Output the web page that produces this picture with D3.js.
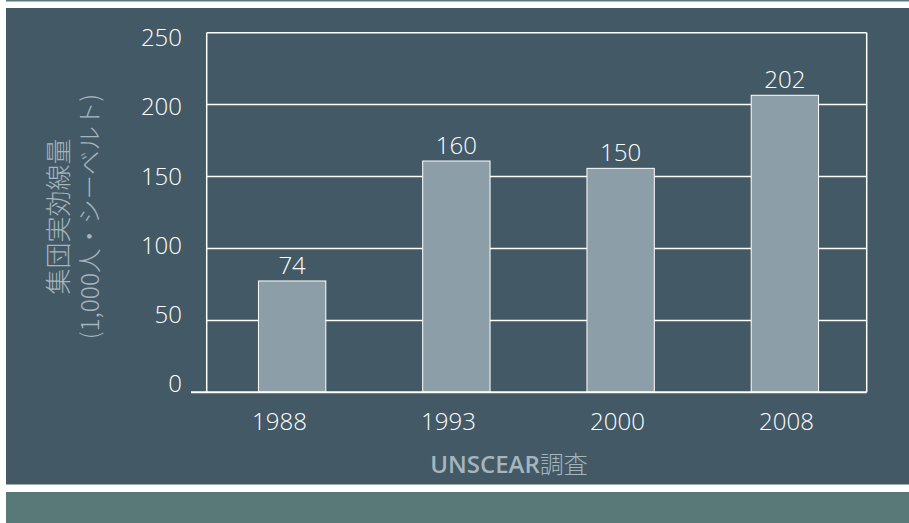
<!DOCTYPE html>
<html>
<head>
<meta charset="utf-8">
<script src="https://cdn.jsdelivr.net/npm/d3@7"></script>
<style>
  html, body { margin: 0; padding: 0; background: #ffffff; }
  svg { display: block; }
</style>
</head>
<body>
<svg id="chart" width="909" height="523"></svg>
<script>
// ---- data ----
const categories = ["1988", "1993", "2000", "2008"];
const barValues = [77.4, 160.8, 155.7, 206.5];      // bar heights as drawn
const valueLabels = ["74", "160", "150", "202"];     // printed labels
const yTicks = [0, 50, 100, 150, 200, 250];
const yTitleLines = ["集団実効線量", "(1,000人・シーベルト)"];
const xTitleLatin = "UNSCEAR";
const xTitleCJK = "調査";

// ---- styles ----
const panelColor = "#435965";
const teal = "#597878";
const barFill = "#8c9fa9";
const subText = "#a5b5be";
const fontLatin = "'Open Sans', 'Noto Sans', sans-serif";
const fontCJK = "'Noto Sans CJK JP', 'Noto Sans', sans-serif";

const svg = d3.select("#chart");

// backgrounds
svg.append("rect").attr("x", 6).attr("y", 0).attr("width", 903).attr("height", 1.5).attr("fill", teal);
svg.append("rect").attr("x", 6).attr("y", 8).attr("width", 903).attr("height", 476.5).attr("fill", panelColor);
svg.append("rect").attr("x", 6).attr("y", 492).attr("width", 903).attr("height", 31).attr("fill", teal);

// scales
const plotL = 206.7, plotR = 866.7, plotT = 32.7, plotB = 392.3;
const y = d3.scaleLinear().domain([0, 250]).range([plotB, plotT]);
const x = d3.scaleBand().domain(categories).range([210, 867]).paddingInner(0.59).paddingOuter(0.295);
// label placement scales (labels in the original are spaced independently)
const yLabel = d3.scaleLinear().domain([0, 250]).range([384, 37.5]);
const xLabel = d3.scaleBand().domain(categories).range([195, 871]);

// gridlines
svg.append("g").selectAll("line").data(yTicks.filter(d => d > 0)).join("line")
  .attr("x1", plotL).attr("x2", plotR)
  .attr("y1", d => y(d)).attr("y2", d => y(d))
  .attr("stroke", "#ffffff").attr("stroke-width", 1.5);

// frame verticals
svg.append("line").attr("x1", plotL).attr("x2", plotL).attr("y1", plotT).attr("y2", plotB)
  .attr("stroke", "#ffffff").attr("stroke-width", 1.5);
svg.append("line").attr("x1", plotR).attr("x2", plotR).attr("y1", plotT).attr("y2", plotB)
  .attr("stroke", "#ffffff").attr("stroke-width", 1.5);

// bars
svg.append("g").selectAll("rect").data(categories).join("rect")
  .attr("x", d => x(d))
  .attr("y", (d, i) => y(barValues[i]))
  .attr("width", x.bandwidth())
  .attr("height", (d, i) => y(0) - y(barValues[i]))
  .attr("fill", barFill)
  .attr("stroke", "#ffffff").attr("stroke-width", 1);

// baseline
svg.append("line").attr("x1", 191).attr("x2", plotR).attr("y1", y(0)).attr("y2", y(0))
  .attr("stroke", "#ffffff").attr("stroke-width", 2);

// value labels
svg.append("g").selectAll("text").data(categories).join("text")
  .attr("x", d => x(d) + x.bandwidth() / 2)
  .attr("y", (d, i) => y(barValues[i]) - 7)
  .attr("text-anchor", "middle")
  .attr("font-family", fontLatin).attr("font-size", 24).attr("font-weight", 300)
  .attr("fill", "#ffffff")
  .text((d, i) => valueLabels[i]);

// y tick labels
svg.append("g").selectAll("text").data(yTicks).join("text")
  .attr("x", 182)
  .attr("y", d => yLabel(d))
  .attr("dy", "0.35em")
  .attr("text-anchor", "end")
  .attr("font-family", fontLatin).attr("font-size", 24).attr("font-weight", 300)
  .attr("fill", "#ffffff")
  .text(d => d);

// x tick labels
svg.append("g").selectAll("text").data(categories).join("text")
  .attr("x", d => xLabel(d) + xLabel.bandwidth() / 2)
  .attr("y", 430)
  .attr("text-anchor", "middle")
  .attr("font-family", fontLatin).attr("font-size", 24).attr("font-weight", 300)
  .attr("fill", "#ffffff")
  .text(d => d);

// x axis title
const xt = svg.append("text")
  .attr("x", 509).attr("y", 472.5)
  .attr("text-anchor", "middle")
  .attr("fill", subText);
xt.append("tspan").attr("font-family", fontLatin).attr("font-weight", 600).attr("font-size", 24).text(xTitleLatin);
xt.append("tspan").attr("font-family", fontCJK).attr("font-weight", 300).attr("font-size", 24).text(xTitleCJK);

// y axis title
const yTitleX = [56, 88];
const yTitleSize = [26, 24.5];
svg.append("g").selectAll("text").data(yTitleLines).join("text")
  .attr("transform", (d, i) => `translate(${yTitleX[i]},216.5) rotate(-90)`)
  .attr("text-anchor", "middle")
  .attr("dominant-baseline", "central")
  .attr("font-family", fontCJK).attr("font-size", (d, i) => yTitleSize[i]).attr("font-weight", 300)
  .attr("fill", subText)
  .text(d => d);
</script>
</body>
</html>
